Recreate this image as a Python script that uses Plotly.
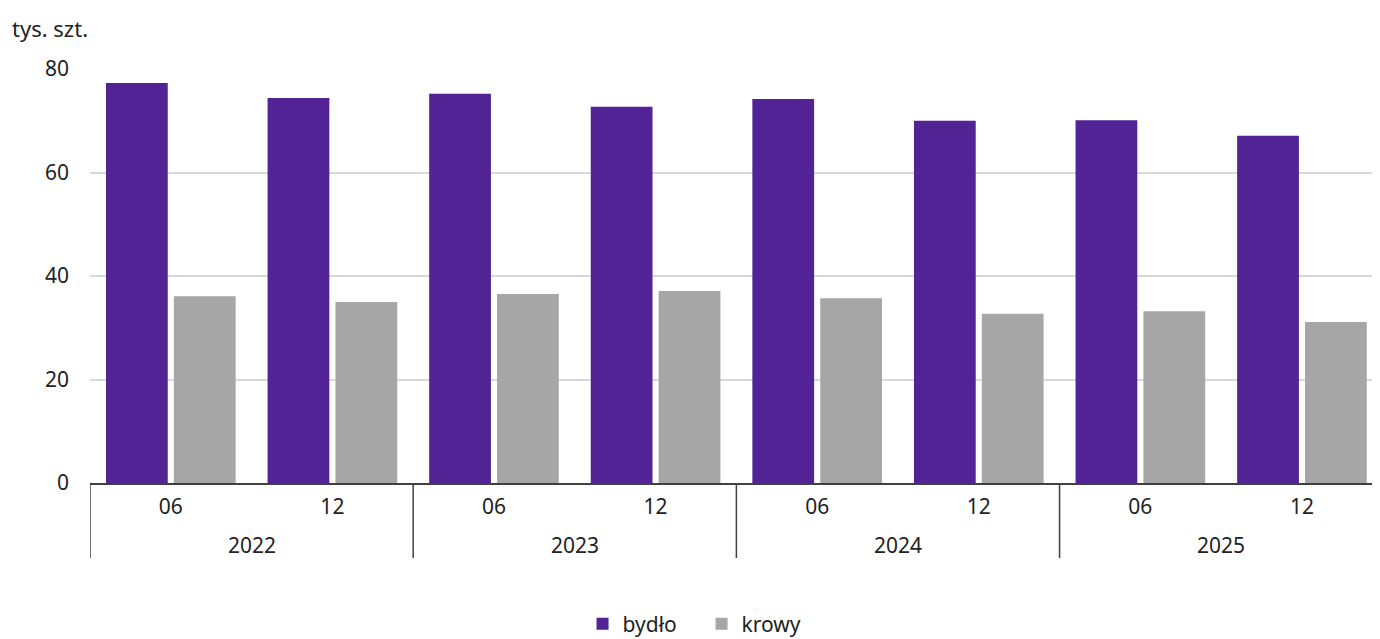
import plotly.graph_objects as go

years = ["2022", "2022", "2023", "2023", "2024", "2024", "2025", "2025"]
months = ["06", "12", "06", "12", "06", "12", "06", "12"]
bydlo = [77.3, 74.4, 75.2, 72.7, 74.2, 70.0, 70.1, 67.1]
krowy = [36.1, 35.0, 36.5, 37.1, 35.7, 32.7, 33.2, 31.1]

FONT = "Noto Sans"
TXT = "#222222"
AX = "#404040"

cats = [f"{y}-{m}" for y, m in zip(years, months)]

# page body has an 8px margin; compensate so the plot lands where the reference has it
W, H = 1372, 631
L, T, PH = 82, 61, 414
B = H - T - PH

fig = go.Figure()
fig.add_trace(go.Bar(x=cats, y=bydlo, name="bydło",
                     marker=dict(color="#512394", line=dict(width=0))))
fig.add_trace(go.Bar(x=cats, y=krowy, name="krowy",
                     marker=dict(color="#a6a6a6", line=dict(width=0))))

# year group labels and dividers
unique_years = []
for y in years:
    if y not in unique_years:
        unique_years.append(y)
annotations = []
shapes = []
for yr in unique_years:
    idx = [i for i, y in enumerate(years) if y == yr]
    mid = (idx[0] + idx[-1]) / 2
    annotations.append(dict(text=yr, x=mid, xref="x", y=-62 / PH, yref="paper",
                            xanchor="center", yanchor="middle", showarrow=False,
                            font=dict(size=21, color=TXT)))
    shapes.append(dict(type="line", xref="x", yref="paper", x0=idx[0] - 0.5, x1=idx[0] - 0.5,
                       y0=0, y1=-75 / PH, line=dict(color=AX, width=1.5)))

annotations.append(dict(text="tys. szt.", xref="paper", yref="paper", x=-80 / 1290,
                        y=1 + (69 - 28) / PH,
                        xanchor="left", yanchor="middle", showarrow=False,
                        font=dict(size=22, color=TXT)))

fig.update_layout(
    width=W, height=H,
    margin=dict(l=L, r=0, t=T, b=B, autoexpand=False),
    paper_bgcolor="white", plot_bgcolor="white",
    barmode="group", bargap=0.16, bargroupgap=0.09,
    font=dict(family=FONT, size=21, color=TXT),
    showlegend=True,
    legend=dict(orientation="h", x=0.5055, xanchor="center", y=1 - 616 / H, yanchor="middle",
                yref="container", xref="container", entrywidth=74,
                font=dict(size=21), itemwidth=30, traceorder="normal"),
    annotations=annotations,
    shapes=shapes,
)
fig.update_yaxes(range=[0, 80], dtick=20, showgrid=True, gridcolor="#d9d9d9", gridwidth=2,
                 zeroline=False, showline=False, ticks="", ticklabelstandoff=20,
                 automargin=False, tickfont=dict(size=21))
fig.update_xaxes(type="category", range=[-0.5, 7.483], tickvals=cats, ticktext=months,
                 showline=True, linecolor=AX, linewidth=1.5, ticks="",
                 ticklabelstandoff=4, automargin=False, tickfont=dict(size=21))

fig.write_html("out.html")
